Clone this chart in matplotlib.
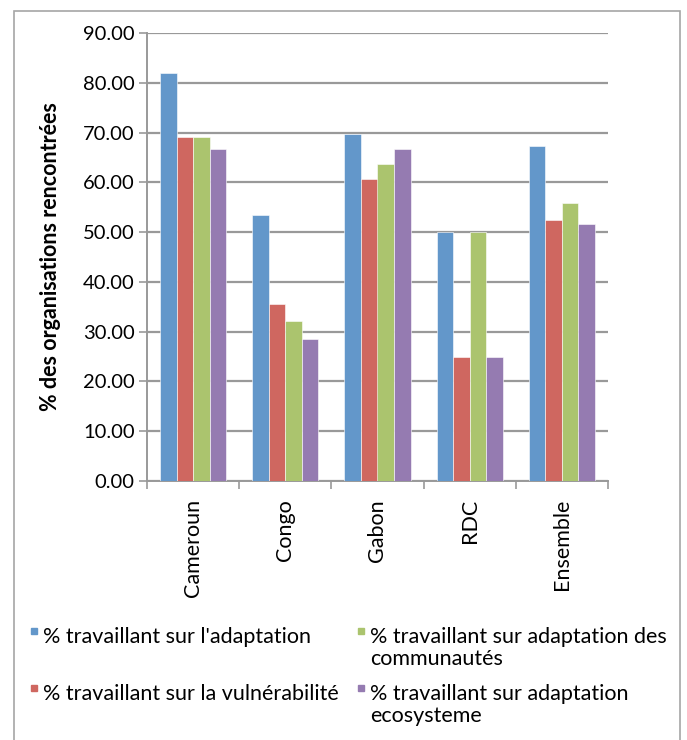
import numpy as np
import matplotlib
matplotlib.use('Agg')
import matplotlib.pyplot as plt
from matplotlib.patches import Rectangle

plt.rcParams['font.family'] = ['Lato', 'DejaVu Sans']

categories = ['Cameroun', 'Congo', 'Gabon', 'RDC', 'Ensemble']
series_names = ["% travaillant sur l'adaptation",
                "% travaillant sur la vulnérabilité",
                "% travaillant sur adaptation des\ncommunautés",
                "% travaillant sur adaptation\necosysteme"]
adaptation = [82.0, 53.5, 69.7, 50.0, 67.2]
vulnerabilite = [69.2, 35.5, 60.6, 25.0, 52.4]
communautes = [69.2, 32.1, 63.6, 50.0, 55.9]
ecosysteme = [66.7, 28.5, 66.7, 25.0, 51.6]
yticks = [0, 10, 20, 30, 40, 50, 60, 70, 80, 90]

colors = ['#6397CA', '#CF6760', '#ABC46E', '#957BB1']
series = [adaptation, vulnerabilite, communautes, ecosysteme]

W, H = 687, 740
fig = plt.figure(figsize=(W / 100, H / 100), dpi=100)
fig.patches.append(Rectangle((14 / W, -0.01), 666 / W, 1 - 11 / H + 0.01,
                             transform=fig.transFigure, fill=False,
                             edgecolor='#A6A6A6', linewidth=1.2))

ax = fig.add_axes([147 / W, 1 - 481 / H, 461 / W, 448 / H])
x = np.arange(len(categories))
w = 0.18
for i, (vals, c) in enumerate(zip(series, colors)):
    ax.bar(x + (i - 1.5) * w, vals, w, color=c, edgecolor='white',
           linewidth=0.4, zorder=3)

ax.set_xlim(-0.5, len(categories) - 0.5)
ax.set_ylim(0, 90)
ax.set_yticks(yticks)
ax.set_yticklabels([f'{v:.2f}' for v in yticks], fontsize=14.5)
ax.yaxis.grid(True, color='#999999', linewidth=1.6, zorder=0)
ax.tick_params(axis='y', length=6, width=1.2, color='#999999', pad=3)

ax.set_xticks(np.arange(len(categories) + 1) - 0.5)
ax.set_xticklabels([])
ax.tick_params(axis='x', which='major', length=6, width=1.2, color='#999999')
ax.set_xticks(x, minor=True)
ax.set_xticklabels(categories, minor=True, rotation=90, fontsize=15.5)
ax.tick_params(axis='x', which='minor', length=0, pad=13)

for s in ['top', 'right']:
    ax.spines[s].set_visible(False)
for s in ['left', 'bottom']:
    ax.spines[s].set_color('#999999')
    ax.spines[s].set_linewidth(1.4)

ax.set_ylabel('% des organisations rencontrées', fontsize=15.5,
              fontweight='bold', labelpad=16)

# legend drawn by hand: two columns, marker aligned with first line
legend_pos = [(31, 643), (31, 700), (358, 643), (358, 700)]
for (px, py), name, c in zip(legend_pos, series_names, colors):
    fig.patches.append(Rectangle((px / W, 1 - (py - 9) / H), 6 / W, 6 / H,
                                 transform=fig.transFigure, color=c))
    for j, line in enumerate(name.split('\n')):
        fig.text((px + 12) / W, 1 - (py + 22 * j) / H, line, fontsize=15.5,
                 va='baseline', ha='left')

fig.savefig('out.png', dpi=100)
